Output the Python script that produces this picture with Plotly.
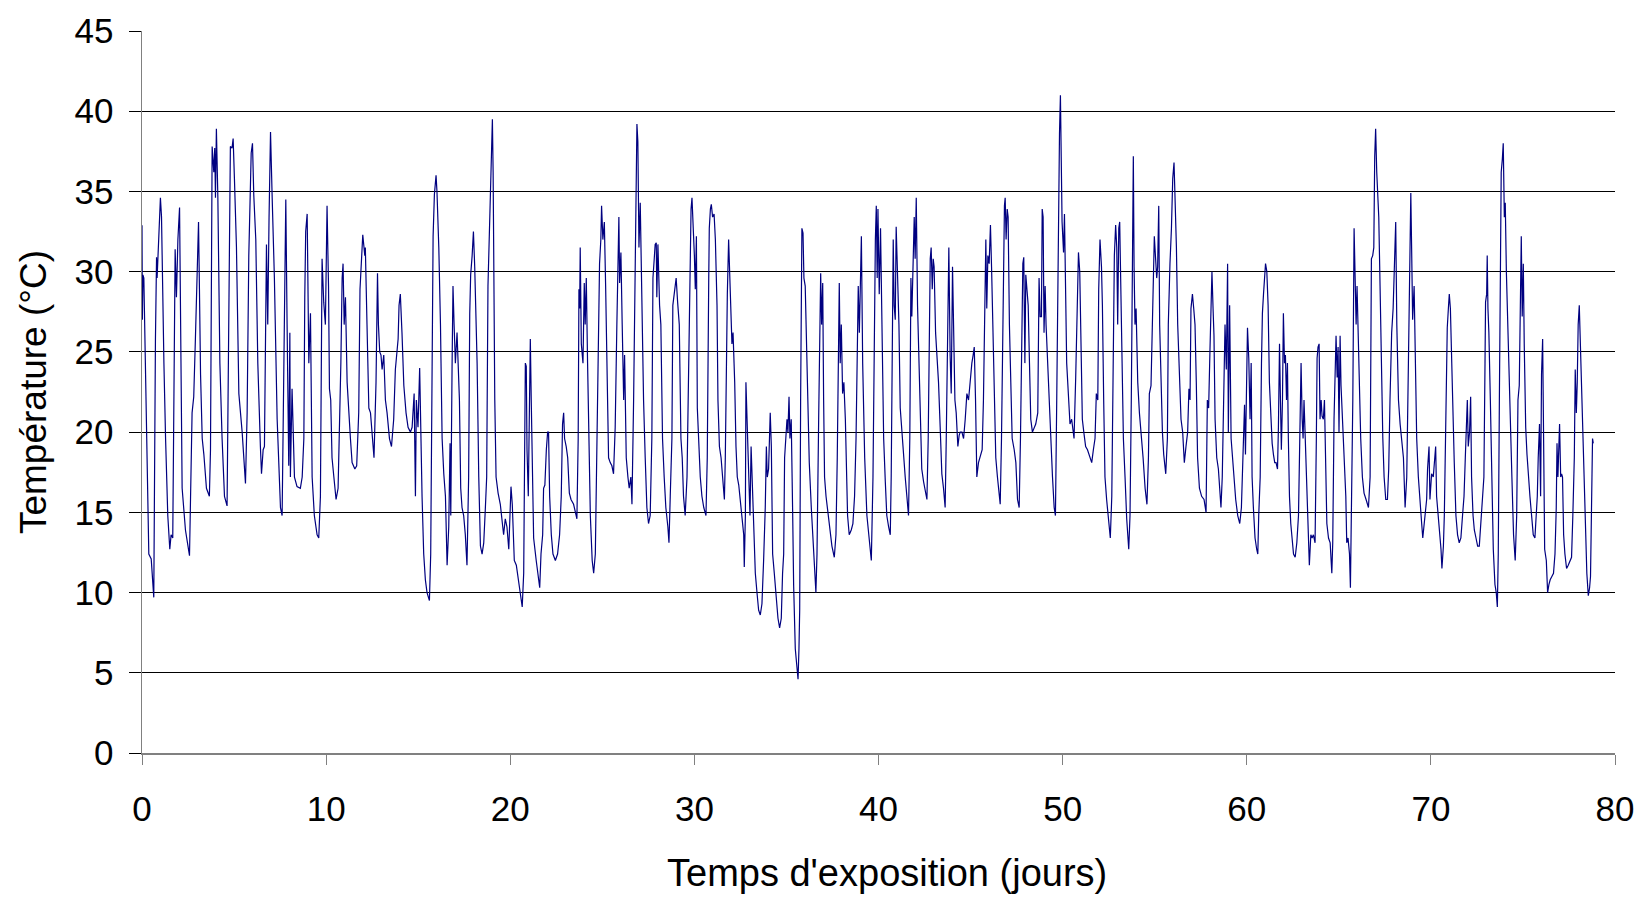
import plotly.graph_objects as go

# Temperature record: (day, temperature °C)
seg_00_10 = [(0.00,32.9),(0.02,27.0),(0.05,29.8),(0.10,29.6),(0.24,19.6),(0.37,12.4),(0.50,12.1),(0.64,9.7),(0.73,25.8),(0.79,30.9),(0.82,29.6),(0.91,32.4),(1.00,34.6),(1.06,33.4),(1.09,30.5),(1.19,24.3),(1.28,19.6),(1.40,14.8),(1.51,12.7),(1.58,13.6),(1.67,13.4),(1.73,24.8),(1.80,31.4),(1.87,28.4),(1.95,32.0),(2.04,34.0),(2.09,26.7),(2.18,16.5),(2.36,13.9),(2.45,13.3),(2.58,12.3),(2.72,21.2),(2.81,22.2),(2.90,25.8),(2.99,29.3),(3.07,33.1),(3.12,28.9),(3.18,23.6),(3.27,19.6),(3.36,18.6),(3.50,16.5),(3.66,16.0),(3.72,18.9),(3.81,37.8),(3.90,36.2),(3.95,37.7),(3.99,34.6),(4.04,38.9),(4.12,34.6),(4.17,29.1),(4.23,24.3),(4.35,19.6),(4.48,16.0),(4.62,15.4),(4.73,28.6),(4.80,37.8),(4.89,37.7),(4.95,38.3),(5.02,35.8),(5.13,31.5),(5.26,22.4),(5.44,20.0),(5.62,16.8),(5.71,21.2),(5.80,31.0),(5.85,34.3),(5.93,37.4),(6.00,38.0),(6.07,34.8),(6.18,32.0),(6.29,24.3),(6.43,19.1),(6.49,17.4),(6.58,18.9),(6.65,19.1),(6.76,31.7),(6.83,26.7),(6.90,33.4),(6.98,38.7),(7.07,34.6),(7.19,29.6),(7.34,20.8),(7.52,15.3),(7.61,14.8),(7.70,24.3),(7.81,34.5),(7.88,26.7),(7.97,17.9),(8.03,26.2),(8.06,17.2),(8.15,22.7),(8.28,17.2),(8.42,16.6),(8.60,16.5),(8.70,17.2),(8.79,19.6),(8.84,28.4),(8.89,32.5),(8.97,33.6),(9.06,24.3),(9.15,27.4),(9.24,17.2),(9.36,14.8),(9.51,13.6),(9.60,13.4),(9.69,16.0),(9.78,30.8),(9.87,28.1),(9.96,26.7),(10.05,34.1)]

seg_10_20 = [(10.13,29.1),(10.18,22.7),(10.25,22.0),(10.32,18.4),(10.42,17.2),(10.54,15.8),(10.65,16.5),(10.72,19.6),(10.80,24.3),(10.87,29.6),(10.92,30.5),(10.98,26.7),(11.05,28.4),(11.14,23.1),(11.23,21.0),(11.32,19.6),(11.41,18.1),(11.56,17.7),(11.66,17.9),(11.77,21.2),(11.84,28.9),(11.92,31.0),(11.99,32.3),(12.10,31.0),(12.13,31.5),(12.22,26.7),(12.32,21.5),(12.41,21.2),(12.50,19.6),(12.60,18.4),(12.71,23.1),(12.79,29.9),(12.84,26.7),(12.91,25.0),(12.98,24.8),(13.04,23.9),(13.13,24.8),(13.22,22.0),(13.31,21.2),(13.44,19.6),(13.55,19.1),(13.67,20.8),(13.76,23.9),(13.91,25.8),(13.96,27.9),(14.03,28.6),(14.12,26.2),(14.22,22.9),(14.34,21.2),(14.45,20.3),(14.58,20.0),(14.67,20.3),(14.78,22.4),(14.85,16.0),(14.90,22.0),(14.99,20.3),(15.08,24.0),(15.14,19.6),(15.21,16.0),(15.30,12.4),(15.39,10.8),(15.48,10.0),(15.61,9.5),(15.68,12.4),(15.75,27.4),(15.81,32.2),(15.88,34.8),(15.97,36.0),(16.02,35.0),(16.12,31.5),(16.21,26.7),(16.30,19.6),(16.39,17.4),(16.48,16.0),(16.57,11.7),(16.66,14.1),(16.73,19.3),(16.77,14.8),(16.84,24.1),(16.89,29.1),(16.95,26.7),(17.02,24.3),(17.11,26.2),(17.17,24.3),(17.24,22.0),(17.31,16.5),(17.38,15.3),(17.47,14.8),(17.56,13.6),(17.65,11.7),(17.74,17.2),(17.80,27.4),(17.85,29.8),(17.93,31.0),(18.00,32.5),(18.07,30.3),(18.14,26.7),(18.20,24.3),(18.29,17.2),(18.38,12.9),(18.47,12.4),(18.56,13.1),(18.65,15.3),(18.72,17.2),(18.79,29.1),(18.87,32.4),(18.94,35.3),(19.03,39.5),(19.07,36.2),(19.12,24.3),(19.16,22.0),(19.23,17.2),(19.34,16.2),(19.46,15.5),(19.55,14.3),(19.64,13.6),(19.73,14.6),(19.82,14.1),(19.92,12.7)]

seg_20_30 = [(20.04,16.6),(20.11,15.5),(20.22,12.0),(20.33,11.7),(20.46,10.5),(20.58,9.6),(20.65,9.1),(20.73,11.2),(20.78,17.7),(20.82,24.3),(20.87,24.1),(20.91,18.9),(20.98,16.0),(21.03,22.0),(21.09,25.8),(21.14,22.0),(21.18,18.9),(21.27,13.4),(21.41,12.0),(21.50,11.0),(21.60,10.3),(21.67,12.4),(21.76,13.6),(21.81,16.5),(21.88,16.7),(21.96,18.9),(22.03,20.0),(22.08,20.0),(22.14,16.0),(22.23,13.6),(22.32,12.4),(22.45,12.0),(22.57,12.4),(22.68,13.6),(22.77,16.0),(22.84,20.5),(22.90,21.2),(22.95,19.6),(23.04,19.1),(23.12,18.4),(23.21,16.2),(23.30,15.8),(23.44,15.5),(23.62,14.6),(23.69,19.6),(23.73,28.9),(23.77,27.7),(23.80,31.5),(23.86,25.5),(23.95,24.3),(24.02,29.3),(24.07,26.7),(24.13,29.6),(24.20,24.3),(24.26,19.6),(24.35,14.8),(24.45,12.0),(24.53,11.2),(24.62,12.4),(24.71,19.6),(24.80,24.3),(24.85,30.5),(24.92,32.0),(24.96,34.1),(25.03,32.0),(25.11,33.1),(25.18,29.1),(25.25,24.3),(25.34,18.4),(25.43,18.1),(25.52,17.9),(25.61,17.4),(25.70,20.3),(25.79,26.7),(25.85,32.2),(25.90,33.4),(25.94,29.3),(26.01,31.2),(26.08,26.7),(26.16,22.0),(26.21,24.8),(26.30,18.4),(26.39,17.2),(26.46,16.5),(26.55,17.2),(26.61,15.5),(26.70,22.0),(26.77,29.6),(26.83,34.3),(26.88,39.2),(26.93,38.1),(26.99,31.5),(27.06,34.3),(27.15,26.7),(27.24,22.0),(27.33,18.4),(27.42,15.3),(27.51,14.3),(27.60,14.8),(27.69,19.6),(27.75,29.6),(27.82,30.8),(27.87,31.7),(27.93,31.8),(27.96,28.4),(28.02,31.7),(28.11,27.9),(28.18,26.7),(28.27,19.6),(28.36,17.2),(28.45,15.3),(28.56,14.1),(28.62,13.1),(28.69,16.0),(28.78,19.6),(28.83,27.9),(28.91,28.6),(28.96,28.9),(29.01,29.6),(29.09,28.1),(29.18,26.7),(29.27,19.6),(29.34,18.4),(29.41,16.0),(29.50,14.8)]

seg_30_40 = [(29.60,17.2),(29.69,25.5),(29.76,31.5),(29.82,33.9),(29.87,34.6),(29.93,33.1),(30.00,31.0),(30.05,28.9),(30.11,32.2),(30.16,21.5),(30.23,19.6),(30.32,17.2),(30.41,16.0),(30.51,15.3),(30.63,14.8),(30.70,18.4),(30.78,29.6),(30.81,32.7),(30.87,33.9),(30.92,34.2),(30.99,33.4),(31.07,33.6),(31.14,32.0),(31.23,27.9),(31.28,22.0),(31.36,19.1),(31.45,18.4),(31.54,17.2),(31.63,15.8),(31.68,18.4),(31.74,25.5),(31.79,28.6),(31.86,32.0),(31.92,29.6),(31.99,26.2),(32.04,25.5),(32.10,26.2),(32.19,23.1),(32.26,19.1),(32.33,17.2),(32.41,16.7),(32.50,15.8),(32.59,14.8),(32.68,13.6),(32.71,11.6),(32.77,14.8),(32.80,23.1),(32.86,20.8),(32.91,20.3),(32.97,17.2),(33.02,14.8),(33.08,19.1),(33.15,16.5),(33.22,13.6),(33.31,11.2),(33.40,10.0),(33.49,8.9),(33.58,8.6),(33.67,9.3),(33.76,12.0),(33.85,15.3),(33.91,19.1),(33.96,17.2),(34.03,17.7),(34.09,19.6),(34.12,21.2),(34.18,19.1),(34.25,12.4),(34.34,11.2),(34.43,10.0),(34.54,8.4),(34.63,7.8),(34.72,8.4),(34.79,11.2),(34.85,12.4),(34.90,18.4),(34.98,20.0),(35.03,20.8),(35.08,20.0),(35.14,22.2),(35.19,19.6),(35.26,20.8),(35.34,14.8),(35.39,10.5),(35.48,6.5),(35.57,5.3),(35.63,4.6),(35.68,6.5),(35.72,8.9),(35.77,22.0),(35.81,26.7),(35.84,32.7),(35.90,32.4),(35.95,29.6),(36.02,29.1),(36.10,24.3),(36.17,21.2),(36.24,18.1),(36.35,15.3),(36.44,12.9),(36.53,11.5),(36.60,10.0),(36.66,12.4),(36.75,20.8),(36.82,26.7),(36.86,29.9),(36.91,26.7),(36.97,29.3),(37.02,22.0),(37.07,17.2),(37.15,16.0),(37.26,14.8),(37.38,13.6),(37.47,12.9),(37.60,12.2),(37.69,13.6),(37.76,18.4),(37.82,26.2),(37.87,29.3),(37.92,24.3),(37.98,26.7),(38.05,22.4),(38.12,23.1),(38.20,20.8),(38.25,17.2),(38.32,14.8),(38.41,13.6),(38.52,13.9),(38.61,14.3),(38.70,16.0),(38.78,19.6),(38.85,26.7),(38.90,29.1),(38.96,26.2),(39.01,29.6),(39.07,32.2),(39.14,24.3),(39.25,18.4),(39.37,14.8),(39.46,13.6),(39.55,12.4),(39.61,12.0),(39.70,17.2),(39.77,26.7),(39.83,32.0),(39.88,34.1),(39.93,29.6),(39.97,33.9),(40.04,28.6),(40.11,32.7),(40.19,26.7),(40.28,19.6),(40.37,16.9)]

seg_40_50 = [(40.45,14.8),(40.55,14.1),(40.64,13.6),(40.69,17.2),(40.74,25.5),(40.80,32.0),(40.85,27.9),(40.91,27.0),(40.96,32.8),(41.03,29.6),(41.11,26.7),(41.18,21.5),(41.27,20.0),(41.36,18.1),(41.45,17.2),(41.54,16.0),(41.63,14.8),(41.70,19.6),(41.76,29.6),(41.81,27.2),(41.87,30.5),(41.94,33.4),(41.99,30.8),(42.05,34.6),(42.12,27.9),(42.19,24.3),(42.26,20.8),(42.35,17.7),(42.45,16.9),(42.54,16.2),(42.63,15.8),(42.70,19.6),(42.75,27.4),(42.81,30.8),(42.86,31.5),(42.92,28.9),(42.97,30.8),(43.02,30.3),(43.10,26.2),(43.17,25.0),(43.26,23.1),(43.35,20.3),(43.44,17.4),(43.53,16.5),(43.62,15.3),(43.68,19.6),(43.75,25.5),(43.82,31.5),(43.89,24.8),(43.95,22.4),(44.02,30.3),(44.07,25.8),(44.15,22.0),(44.22,21.2),(44.31,19.1),(44.38,19.8),(44.44,20.0),(44.53,20.0),(44.62,19.6),(44.71,20.8),(44.80,22.4),(44.89,22.0),(44.98,23.4),(45.07,24.3),(45.14,24.8),(45.20,25.3),(45.27,22.0),(45.34,17.2),(45.43,18.1),(45.52,18.4),(45.63,18.9),(45.70,22.0),(45.77,29.1),(45.83,32.0),(45.88,27.7),(45.94,31.0),(46.01,30.5),(46.08,32.9),(46.14,30.3),(46.21,26.7),(46.28,21.5),(46.37,18.4),(46.46,17.2),(46.53,16.2),(46.61,15.5),(46.68,19.6),(46.73,25.5),(46.79,32.2),(46.84,34.1),(46.88,34.6),(46.93,32.0),(46.99,33.9),(47.04,33.4),(47.11,26.7),(47.19,22.0),(47.26,19.6),(47.37,18.9),(47.46,18.1),(47.55,15.8),(47.64,15.3),(47.71,19.6),(47.78,24.3),(47.84,30.5),(47.89,30.9),(47.95,24.3),(48.00,29.8),(48.06,28.6),(48.13,27.9),(48.20,24.3),(48.27,20.8),(48.36,20.0),(48.45,20.3),(48.54,20.5),(48.65,21.2),(48.72,29.6),(48.78,27.2),(48.85,27.2),(48.89,33.9),(48.94,33.4),(48.99,26.2),(49.05,29.1),(49.10,26.7),(49.18,24.3),(49.27,22.0),(49.36,19.6),(49.45,17.2),(49.54,15.3),(49.61,14.8),(49.68,22.0),(49.76,33.9),(49.83,38.6),(49.88,41.0),(49.92,35.0),(49.97,33.1),(50.05,31.2),(50.10,33.6)]

seg_50_60 = [(50.22,24.3),(50.31,22.4),(50.40,20.5),(50.49,20.8),(50.59,20.0),(50.62,19.6),(50.71,23.4),(50.78,26.7),(50.86,31.2),(50.93,30.0),(50.98,26.7),(51.07,20.8),(51.15,20.0),(51.25,19.1),(51.35,18.9),(51.45,18.6),(51.58,18.1),(51.67,18.9),(51.76,19.6),(51.83,22.4),(51.91,22.0),(51.96,28.9),(52.03,32.0),(52.11,30.3),(52.16,27.9),(52.23,22.0),(52.30,17.2),(52.39,15.8),(52.49,14.6),(52.59,13.4),(52.67,16.0),(52.74,22.0),(52.81,31.0),(52.88,32.9),(52.94,31.5),(52.99,26.7),(53.05,32.7),(53.10,33.1),(53.16,29.1),(53.21,26.7),(53.30,19.6),(53.39,17.2),(53.48,14.6),(53.59,12.7),(53.66,14.8),(53.73,22.0),(53.81,33.6),(53.84,37.2),(53.88,30.3),(53.93,26.7),(53.99,27.7),(54.08,23.1),(54.17,21.2),(54.26,20.0),(54.37,18.4),(54.48,16.5),(54.58,15.5),(54.66,18.4),(54.71,22.4),(54.80,22.9),(54.87,27.9),(54.93,29.6),(54.98,32.2),(55.04,30.8),(55.11,29.6),(55.16,30.3),(55.22,34.1),(55.27,26.7),(55.34,22.4),(55.42,20.0),(55.49,18.6),(55.60,17.4),(55.69,19.6),(55.74,26.7),(55.83,30.5),(55.91,32.7),(55.98,35.8),(56.05,36.8),(56.10,34.8),(56.18,31.5),(56.25,26.7),(56.34,23.1),(56.43,20.8),(56.52,20.0),(56.61,18.1),(56.70,19.1),(56.79,20.0),(56.86,22.7),(56.92,22.0),(56.97,27.7),(57.05,28.6),(57.12,27.7),(57.19,26.7),(57.26,23.1),(57.33,18.4),(57.43,16.5),(57.55,16.0),(57.68,15.8),(57.79,15.0),(57.86,22.0),(57.93,21.5),(58.00,25.0),(58.06,27.9),(58.11,30.0),(58.17,27.7),(58.22,26.0),(58.28,20.8),(58.37,18.4),(58.46,17.7),(58.53,16.7),(58.60,15.3),(58.67,17.2),(58.75,23.1),(58.82,26.7),(58.89,23.9),(58.96,30.5),(59.00,20.0),(59.07,27.9),(59.15,19.6),(59.22,18.4),(59.31,17.2),(59.40,15.8),(59.51,14.8),(59.62,14.3),(59.71,15.3)]

seg_60_70 = [(59.82,19.6),(59.88,21.7),(59.93,18.6),(59.98,21.5),(60.04,26.5),(60.11,24.6),(60.18,20.8),(60.24,24.3),(60.29,17.2),(60.36,15.3),(60.45,13.4),(60.54,12.7),(60.60,12.4),(60.65,14.8),(60.73,17.2),(60.80,24.3),(60.85,27.4),(60.91,28.6),(60.96,29.8),(61.02,30.5),(61.09,30.0),(61.16,27.9),(61.23,23.1),(61.31,20.8),(61.38,19.3),(61.45,18.6),(61.52,18.1),(61.59,18.1),(61.67,17.7),(61.72,20.3),(61.78,25.5),(61.83,22.0),(61.88,18.9),(61.94,22.0),(61.99,27.4),(62.05,24.3),(62.10,24.8),(62.16,22.0),(62.21,24.3),(62.26,19.6),(62.32,16.0),(62.39,14.3),(62.46,13.1),(62.54,12.4),(62.63,12.2),(62.72,13.1),(62.81,14.8),(62.86,17.7),(62.92,22.0),(62.95,24.3),(63.01,20.8),(63.06,19.6),(63.11,22.0),(63.17,19.6),(63.26,16.0),(63.35,13.6),(63.40,11.7),(63.48,13.6),(63.55,13.4),(63.62,13.6),(63.71,13.1),(63.78,19.6),(63.82,24.6),(63.87,25.3),(63.93,25.5),(63.98,20.8),(64.04,22.0),(64.09,21.0),(64.16,20.8),(64.22,22.0),(64.27,17.9),(64.35,14.3),(64.44,13.4),(64.53,13.1),(64.62,11.2),(64.67,13.1),(64.74,20.8),(64.80,24.3),(64.85,26.0),(64.91,23.4),(64.96,25.3),(65.01,20.0),(65.07,26.0),(65.12,22.9),(65.20,20.8),(65.29,18.4),(65.38,16.0),(65.43,13.1),(65.50,13.4),(65.58,12.4),(65.63,10.3),(65.68,14.8),(65.76,22.0),(65.83,32.7),(65.88,29.6),(65.94,26.7),(65.99,29.1),(66.05,26.0),(66.12,22.0),(66.19,19.6),(66.28,17.2),(66.37,16.2),(66.48,15.8),(66.61,15.3),(66.70,17.2),(66.77,30.8),(66.84,31.0),(66.90,31.5),(66.95,37.2),(67.00,38.9),(67.06,36.2),(67.11,34.3),(67.17,33.4),(67.24,29.1),(67.31,24.3),(67.39,19.6),(67.46,17.2),(67.55,15.8),(67.64,15.8),(67.71,17.7),(67.78,22.0),(67.87,26.2),(67.95,27.7),(68.02,30.0),(68.09,33.1),(68.15,26.7),(68.24,22.0),(68.33,20.5),(68.42,19.6),(68.51,18.4),(68.60,15.3),(68.69,17.2),(68.78,24.3),(68.85,29.6),(68.91,34.9),(68.96,31.0),(69.01,27.0),(69.09,29.1),(69.16,24.3),(69.23,19.6),(69.32,17.2),(69.41,16.0),(69.50,14.3),(69.56,13.4)]

seg_70_80 = [(69.68,14.8),(69.77,15.8),(69.82,17.7),(69.90,19.1),(69.95,15.8),(70.04,17.4),(70.13,17.2),(70.19,18.1),(70.26,19.1),(70.31,16.0),(70.40,14.8),(70.48,14.1),(70.55,12.7),(70.60,11.5),(70.68,12.9),(70.73,14.8),(70.78,19.6),(70.84,24.8),(70.89,26.5),(70.95,27.7),(71.00,28.6),(71.06,27.7),(71.13,23.9),(71.20,21.2),(71.27,18.1),(71.36,14.8),(71.45,13.6),(71.54,13.1),(71.63,13.4),(71.72,14.8),(71.80,16.0),(71.87,18.4),(71.92,20.8),(71.98,22.0),(72.03,19.1),(72.10,20.0),(72.16,22.2),(72.21,17.2),(72.29,14.8),(72.36,13.9),(72.45,13.4),(72.54,12.9),(72.63,12.9),(72.72,14.3),(72.81,16.0),(72.88,17.2),(72.94,24.3),(72.97,28.1),(73.03,28.6),(73.06,31.0),(73.10,27.7),(73.15,26.2),(73.23,22.0),(73.30,17.2),(73.39,12.7),(73.48,10.5),(73.55,10.0),(73.61,9.1),(73.66,12.4),(73.72,22.0),(73.77,31.5),(73.82,36.2),(73.88,37.0),(73.93,38.0),(73.99,33.4),(74.04,34.3),(74.10,30.0),(74.17,26.7),(74.24,23.9),(74.31,19.6),(74.40,17.2),(74.49,13.6),(74.58,12.0),(74.66,14.8),(74.73,22.0),(74.80,22.9),(74.86,27.7),(74.91,32.2),(74.96,27.2),(75.02,30.5),(75.07,25.5),(75.15,20.3),(75.22,18.6),(75.29,17.2),(75.38,16.0),(75.47,14.8),(75.56,13.6),(75.65,13.4),(75.72,14.8),(75.78,16.0),(75.83,18.4),(75.90,20.5),(75.96,16.0),(76.01,23.6),(76.07,25.8),(76.12,19.6),(76.18,12.7),(76.27,12.0),(76.34,10.0),(76.41,10.5),(76.48,10.8),(76.57,11.0),(76.66,11.2),(76.74,12.4),(76.81,15.3),(76.85,19.3),(76.90,17.2),(76.95,19.1),(76.99,20.5),(77.05,17.2),(77.10,17.4),(77.15,17.2),(77.21,13.6),(77.28,12.4),(77.37,11.5),(77.46,11.7),(77.55,12.0),(77.64,12.2),(77.71,14.8),(77.79,18.4),(77.84,23.9),(77.90,21.2),(77.95,23.1),(78.00,26.7),(78.06,27.9),(78.11,25.8),(78.19,23.1),(78.26,19.6),(78.33,16.0),(78.40,13.6),(78.47,11.2),(78.55,9.8),(78.62,10.3),(78.67,11.0),(78.73,17.2),(78.78,19.6),(78.82,19.3)]

x_ticks = [0, 10, 20, 30, 40, 50, 60, 70, 80]
y_ticks = [0, 5, 10, 15, 20, 25, 30, 35, 40, 45]
x_title = "Temps d'exposition (jours)"
y_title = "Température (°C)"

records = seg_00_10 + seg_10_20 + seg_20_30 + seg_30_40 + seg_40_50 + seg_50_60 + seg_60_70 + seg_70_80
days = [r[0] for r in records]
temps = [r[1] for r in records]

FONT = "Liberation Sans, Arial, sans-serif"

fig = go.Figure(go.Scatter(
    x=days, y=temps, mode="lines",
    line=dict(color="#000080", width=1.2),
    showlegend=False, hoverinfo="skip",
))

fig.update_layout(
    width=1644, height=897,
    margin=dict(l=142, r=29, t=31, b=144, pad=0),
    paper_bgcolor="white", plot_bgcolor="white",
    font=dict(family=FONT, color="black", size=35),
)
# x-axis title drawn as a text annotation (sits slightly right of the plot centre, as in the original)
fig.add_annotation(
    text=x_title, xref="paper", yref="paper", x=0.506, y=-0.166,
    xanchor="center", yanchor="middle", showarrow=False,
    font=dict(size=38, family=FONT, color="black"),
)
fig.update_xaxes(
    range=[0, 80], tickvals=x_ticks, ticktext=[str(v) for v in x_ticks],
    showgrid=False, zeroline=False, automargin=False,
    showline=True, linecolor="#808080", linewidth=1.5,
    ticks="outside", ticklen=10, tickcolor="#808080", tickwidth=1,
    tickfont=dict(size=35, family=FONT, color="black"),
    ticklabelstandoff=14,
)
fig.update_yaxes(
    range=[0, 45], tickvals=y_ticks, ticktext=[str(v) for v in y_ticks],
    showgrid=True, gridcolor="#000000", gridwidth=1,
    zeroline=False, automargin=False,
    showline=True, linecolor="#808080", linewidth=1.5,
    ticks="outside", ticklen=12, tickcolor="#000000", tickwidth=1,
    tickfont=dict(size=35, family=FONT, color="black"),
    ticklabelstandoff=8,
    title=dict(text=y_title, font=dict(size=37, family=FONT, color="black"), standoff=16),
)

fig.write_html(
    "out.html",
    config={"displayModeBar": False, "staticPlot": True},
    post_script="document.body.style.margin='0';document.documentElement.style.overflow='hidden';",
)
